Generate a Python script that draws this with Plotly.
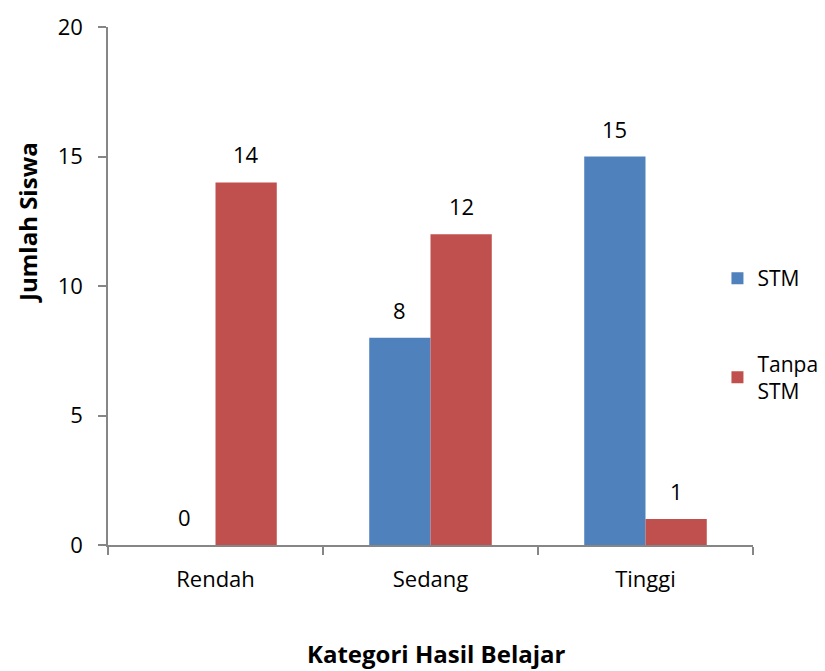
import plotly.graph_objects as go

categories = ["Rendah", "Sedang", "Tinggi"]
stm_values = [0, 8, 15]
tanpa_values = [14, 12, 1]
series_names = ["STM", "Tanpa<br>STM"]
y_ticks = [0, 5, 10, 15, 20]
x_title = "Kategori Hasil Belajar"
y_title = "Jumlah Siswa"

BLUE = "#4F81BD"
RED = "#C0504D"
AXIS = "#868686"
FONT = "Open Sans"
BARGAP = 0.43

fig = go.Figure()
fig.add_trace(go.Bar(x=categories, y=stm_values, name=series_names[0],
                     marker=dict(color=BLUE, line=dict(width=0)), legendgroup="a"))
fig.add_trace(go.Bar(x=categories, y=tanpa_values, name=series_names[1],
                     marker=dict(color=RED, line=dict(width=0)), legendgroup="b"))

off = (1 - BARGAP) / 4
annotations = []
for i, (s, t) in enumerate(zip(stm_values, tanpa_values)):
    for val, dx in ((s, -off), (t, off)):
        annotations.append(dict(x=i + dx, y=val, xref="x", yref="y", text=str(val),
                                showarrow=False, yanchor="middle", yshift=28,
                                font=dict(family=FONT, size=22, color="black")))

# axis titles (placed like the original, y title sits above the axis centre)
annotations.append(dict(text=f"<b>{x_title}</b>", xref="paper", yref="paper",
                        x=0.4575, y=-0.2085, xanchor="center", yanchor="middle",
                        showarrow=False, font=dict(family=FONT, size=24, color="black")))
annotations.append(dict(text=f"<b>{y_title}</b>", xref="paper", yref="paper",
                        x=-0.1116, y=0.6236, xanchor="center", yanchor="middle",
                        textangle=-90, showarrow=False,
                        font=dict(family=FONT, size=24, color="black")))

fig.update_layout(
    width=825, height=671,
    margin=dict(l=108, r=0, t=27, b=126),
    paper_bgcolor="white", plot_bgcolor="white",
    barmode="group", bargap=BARGAP, bargroupgap=0,
    font=dict(family=FONT, size=22, color="black"),
    annotations=annotations,
    showlegend=True,
    legend=dict(x=0.85, y=0.554, xanchor="left", yanchor="top",
                font=dict(family=FONT, size=21, color="black"),
                tracegroupgap=55, bgcolor="rgba(0,0,0,0)"),
    xaxis=dict(domain=[0, 645 / 717], type="category", range=[-0.5, 2.5],
               showline=True, linecolor=AXIS, linewidth=1.5,
               ticks="outside", tickson="boundaries", ticklen=8, tickcolor=AXIS, tickwidth=1.5,
               ticklabelstandoff=14,
               tickfont=dict(family=FONT, size=22, color="black"),
               showgrid=False, zeroline=False),
    yaxis=dict(range=[0, 20], tickvals=y_ticks, showline=True, linecolor=AXIS, linewidth=1.5,
               ticks="outside", ticklen=8, tickcolor=AXIS, tickwidth=1.5,
               ticklabelstandoff=11,
               tickfont=dict(family=FONT, size=22, color="black"),
               showgrid=False, zeroline=False),
)

fig.write_html("out.html", config={"displayModeBar": False},
               post_script="document.body.style.margin='0';document.body.style.overflow='hidden';")
